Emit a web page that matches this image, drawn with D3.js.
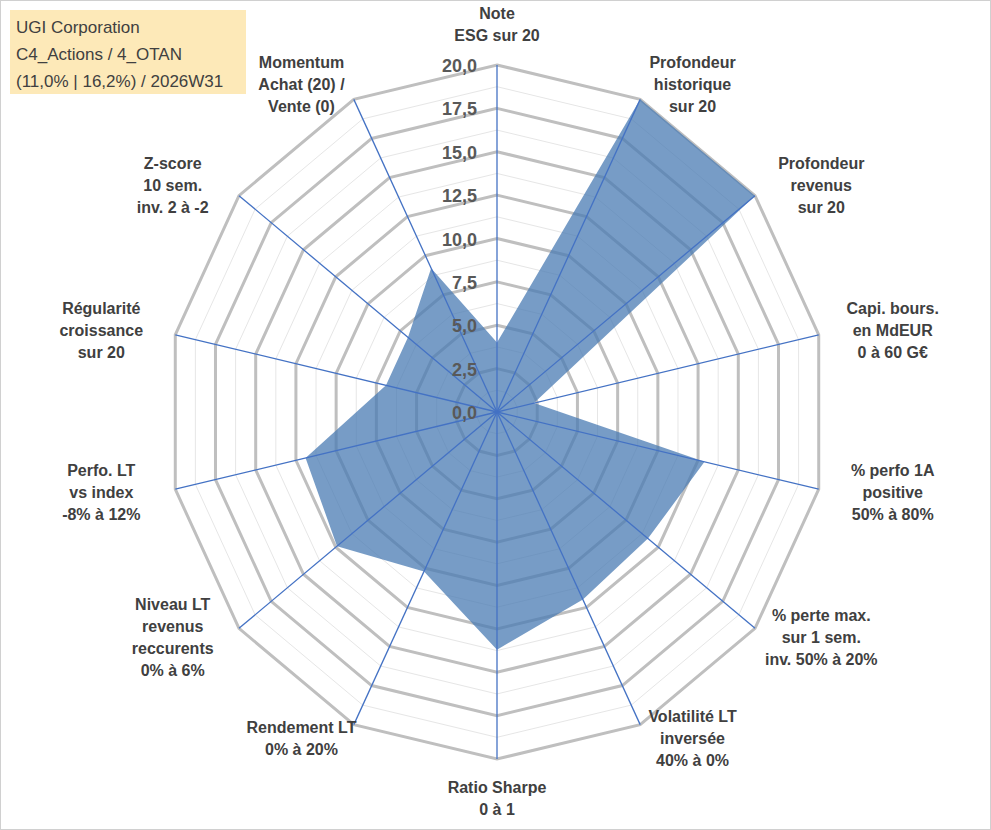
<!DOCTYPE html>
<html><head><meta charset="utf-8">
<script src="https://cdn.jsdelivr.net/npm/d3@7"></script>
<style>body{margin:0;background:#fff;font-family:"Liberation Sans",Arial,sans-serif}</style>
</head><body>
<svg id="chart" width="991" height="830"></svg>
<script>
let labels = [
  ["Note","ESG sur 20"],
  ["Profondeur","historique","sur 20"],
  ["Profondeur","revenus","sur 20"],
  ["Capi. bours.","en MdEUR","0 à 60 G€"],
  ["% perfo 1A","positive","50% à 80%"],
  ["% perte max.","sur 1 sem.","inv. 50% à 20%"],
  ["Volatilité LT","inversée","40% à 0%"],
  ["Ratio Sharpe","0 à 1"],
  ["Rendement LT","0% à 20%"],
  ["Niveau LT","revenus","reccurents","0% à 6%"],
  ["Perfo. LT","vs index","-8% à 12%"],
  ["Régularité","croissance","sur 20"],
  ["Z-score","10 sem.","inv. 2 à -2"],
  ["Momentum","Achat (20) /","Vente (0)"]
];
let values = [4.0, 20, 20, 2.3, 12.9, 11.7, 12.0, 13.7, 10.2, 12.4, 11.9, 6.9, 6.9, 9.2];
let ticks = [0, 2.5, 5, 7.5, 10, 12.5, 15, 17.5, 20];
let titleLines = ["UGI Corporation", "C4_Actions / 4_OTAN", "(11,0% | 16,2%) / 2026W31"];

let svg = d3.select("#chart");
svg.append("rect").attr("x",0.5).attr("y",0.5).attr("width",990).attr("height",829)
  .attr("fill","#fff").attr("stroke","#d0d0d0");

let cx = 497, cy = 412;
let rx = d3.scaleLinear().domain([0,20]).range([0,330]);
let ry = d3.scaleLinear().domain([0,20]).range([0,347]);
let n = labels.length;
let ang = i => i * 2 * Math.PI / n;
let pt = (i, v) => [cx + rx(v) * Math.sin(ang(i)), cy - ry(v) * Math.cos(ang(i))];
let poly = v => d3.range(n).map(i => pt(i, v));
let line = d3.line().curve(d3.curveLinearClosed);

d3.range(1.25, 20, 2.5).forEach(v => {
  svg.append("path").attr("d", line(poly(v))).attr("fill","none")
    .attr("stroke","#e6e6e6").attr("stroke-width",1);
});
ticks.slice(1).forEach(v => {
  svg.append("path").attr("d", line(poly(v))).attr("fill","none")
    .attr("stroke","#bfbfbf").attr("stroke-width",3);
});
svg.append("path").attr("d", line(values.map((v,i) => pt(i,v))))
  .attr("fill","#4a7bb3").attr("fill-opacity",0.75).attr("stroke","none");
d3.range(n).forEach(i => {
  let p = pt(i, 20);
  svg.append("line").attr("x1",cx).attr("y1",cy).attr("x2",p[0]).attr("y2",p[1])
    .attr("stroke","#4472c4").attr("stroke-width",1.3);
});
ticks.forEach(v => {
  svg.append("text").attr("x", cx - 20).attr("y", cy - ry(v) + 7)
    .attr("text-anchor","end").attr("font-size",18).attr("font-weight","bold")
    .attr("fill","#595959").text(d3.format(".1f")(v).replace(".", ","));
});
labels.forEach((lines, i) => {
  let a = ang(i), s = Math.sin(a), c = Math.cos(a);
  let p = pt(i, 20);
  let lx, ly;
  if (Math.abs(s) < 0.1) { lx = p[0]; ly = p[1] - Math.sign(c) * 40; }
  else { lx = p[0] + 40 * s + 35 * Math.sign(s); ly = p[1] - c * 16; }
  let lh = 22, h = lines.length * lh;
  let y0 = ly - h / 2 + 16;
  let t = svg.append("text").attr("text-anchor","middle").attr("font-size",16)
    .attr("font-weight","bold").attr("fill","#404040");
  lines.forEach((l, k) => {
    t.append("tspan").attr("x", lx).attr("y", y0 + k * lh).text(l);
  });
});
svg.append("rect").attr("x",10).attr("y",10).attr("width",236).attr("height",84).attr("fill","#fde9b8");
titleLines.forEach((l, k) => {
  svg.append("text").attr("x",16).attr("y",33 + k * 27).attr("font-size",17)
    .attr("fill","#404040").text(l);
});
</script>
</body></html>
